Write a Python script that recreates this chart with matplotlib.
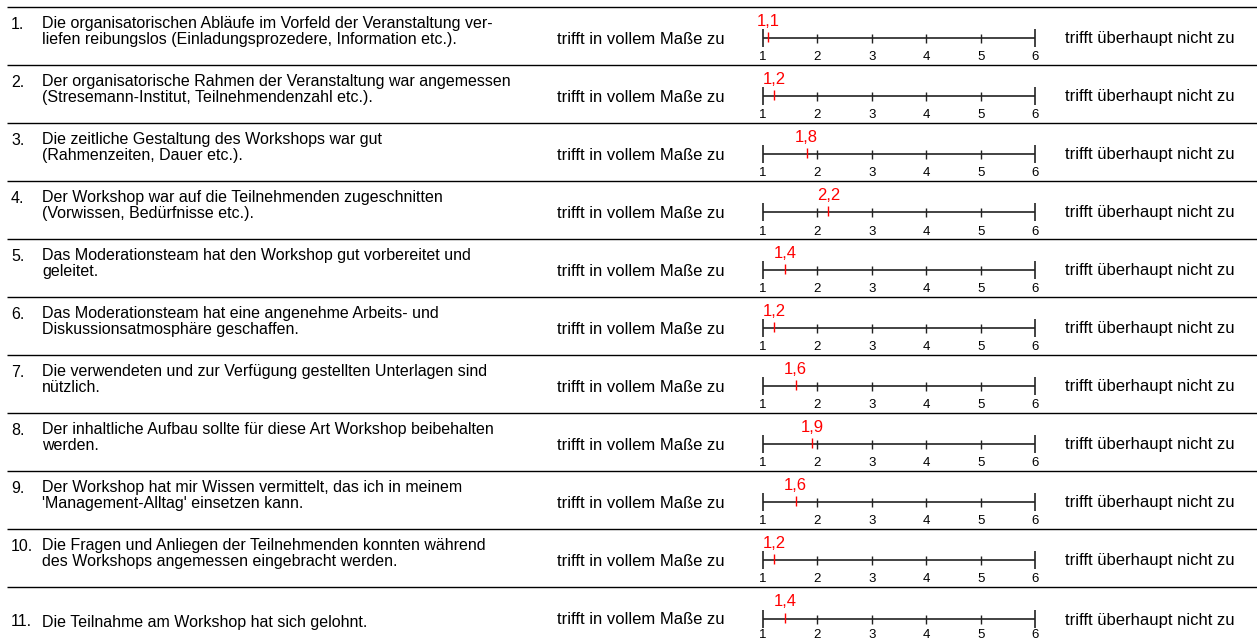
import matplotlib
matplotlib.use("Agg")
import matplotlib.pyplot as plt

plt.rcParams['font.family'] = ['Liberation Sans', 'DejaVu Sans']

#Questions of the evaluation form
questions = [
    "Die organisatorischen Abläufe im Vorfeld der Veranstaltung ver-\nliefen reibungslos (Einladungsprozedere, Information etc.).",
    "Der organisatorische Rahmen der Veranstaltung war angemessen\n(Stresemann-Institut, Teilnehmendenzahl etc.).",
    "Die zeitliche Gestaltung des Workshops war gut\n(Rahmenzeiten, Dauer etc.).",
    "Der Workshop war auf die Teilnehmenden zugeschnitten\n(Vorwissen, Bedürfnisse etc.).",
    "Das Moderationsteam hat den Workshop gut vorbereitet und\ngeleitet.",
    "Das Moderationsteam hat eine angenehme Arbeits- und\nDiskussionsatmosphäre geschaffen.",
    "Die verwendeten und zur Verfügung gestellten Unterlagen sind\nnützlich.",
    "Der inhaltliche Aufbau sollte für diese Art Workshop beibehalten\nwerden.",
    "Der Workshop hat mir Wissen vermittelt, das ich in meinem\n'Management-Alltag' einsetzen kann.",
    "Die Fragen und Anliegen der Teilnehmenden konnten während\ndes Workshops angemessen eingebracht werden.",
    "Die Teilnahme am Workshop hat sich gelohnt.",
]

#Mean answers (1 = best, 6 = worst)
means = [1.1, 1.2, 1.8, 2.2, 1.4, 1.2, 1.6, 1.9, 1.6, 1.2, 1.4]

scaleTicks = [1, 2, 3, 4, 5, 6]
leftLabel = "trifft in vollem Maße zu"
rightLabel = "trifft überhaupt nicht zu"

W, H = 1257, 643
fig = plt.figure(figsize=(W / 100, H / 100), dpi=100)

#background axes in pixel units for the table layout
bg = fig.add_axes([0, 0, 1, 1])
bg.set_xlim(0, W)
bg.set_ylim(H, 0)
bg.axis('off')

rowTop = 7
rowH = 58
scaleX0, scaleX1 = 763, 1035
unit = (scaleX1 - scaleX0) / (scaleTicks[-1] - scaleTicks[0])
axLeft, axRight = 740, 1062

for i in range(len(questions)):

    top = rowTop + i * rowH

    bg.plot([7, W], [top, top], color='black', lw=1.0, solid_capstyle='butt')

    last = (i == len(questions) - 1)
    shift = 1 if last else 0
    textY = top + (35 if last else 24.5)

    bg.text(11, textY - (0 if last else 7), str(i + 1) + ".", fontsize=11.5, ha='left', va='center')
    bg.text(42, textY, questions[i], fontsize=11.5, ha='left', va='center', linespacing=1.05)

    bg.text(557, top + 32 + shift, leftLabel, fontsize=12, ha='left', va='center')
    bg.text(1065, top + 32 + shift, rightLabel, fontsize=12, ha='left', va='center')

    #scale axes for this row, x in answer units
    ax = fig.add_axes([axLeft / W, 1 - (top + rowH) / H, (axRight - axLeft) / W, rowH / H])
    ax.set_xlim(scaleTicks[0] - (scaleX0 - axLeft) / unit, scaleTicks[-1] + (axRight - scaleX1) / unit)
    ax.set_ylim(rowH, 0)
    ax.axis('off')

    y0 = 31 + shift
    ax.hlines(y0, scaleTicks[0], scaleTicks[-1], color='#222222', lw=1.2)
    ax.vlines([scaleTicks[0], scaleTicks[-1]], y0 - 9.5, y0 + 9, color='#222222', lw=1.2)
    ax.vlines(scaleTicks[1:-1], y0 - 4.5, y0 + 5, color='#222222', lw=1.0)
    ax.vlines(means[i], y0 - 6.5, y0 + 4, color='red', lw=1.0)

    tickY = y0 + (15.5 if last else 19.5)
    for t in scaleTicks:
        ax.text(t, tickY, str(t), fontsize=9.5, ha='center', va='center')

    ax.text(means[i], y0 - 17, ("%.1f" % means[i]).replace(".", ","), fontsize=12,
            color='red', ha='center', va='center')

fig.savefig("out.png", dpi=100)
